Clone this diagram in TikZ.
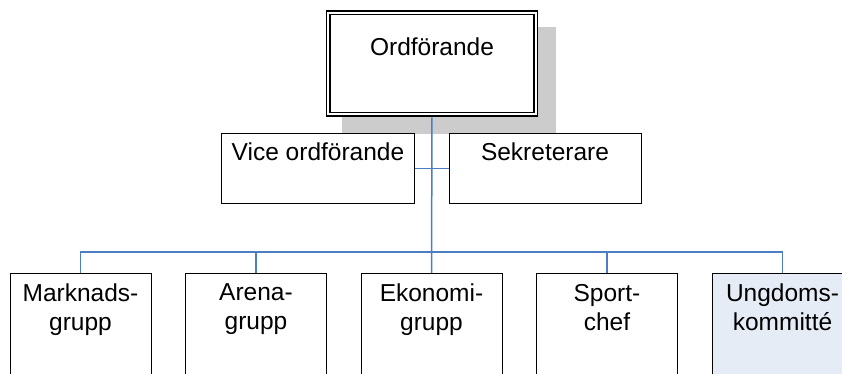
\documentclass[tikz,border=0pt]{standalone}
\usepackage{fontspec}
\setmainfont{Liberation Sans}
\usetikzlibrary{positioning,backgrounds}
\definecolor{connblue}{RGB}{74,126,192}
\definecolor{youthfill}{RGB}{230,236,246}

\begin{document}
\begin{tikzpicture}[x=1pt, y=-1pt,
    box/.style={draw, fill=white, line width=1pt, inner sep=0pt, anchor=north},
    unit/.style={box, minimum width=141pt, minimum height=120pt},
    txt/.style={inner sep=0pt, anchor=north, align=center,
      font=\fontsize{24.5}{29}\selectfont, execute at begin node=\strut},
    conn/.style={draw=connblue, line width=1.5pt}]
    \useasboundingbox (0,0) rectangle (842,374);
    \clip (0,0) rectangle (842,374);

    \node[box, double, line width=1.3pt, double distance=2.2pt, minimum width=207.5pt,
      minimum height=101.5pt] (ordf) at (432,12.25) {};
    \node[box, minimum width=193pt, minimum height=70pt] (vice) at (318,133) {};
    \node[box, minimum width=192pt, minimum height=70pt] (sek) at (545,133) {};

    \node[unit] (mark) at (80.5,273) {};
    \node[unit] (arena) at (256,273) {};
    \node[unit] (econ) at (431.5,273) {};
    \node[unit] (sport) at (607,273) {};
    \node[unit, fill=youthfill] (youth) at (782.5,273) {};

    % shadow behind the top box
    \begin{scope}[on background layer]
      \fill[black!20] ([shift={(14.75,14.75)}]ordf.north west)
        rectangle ([shift={(19.25,19.25)}]ordf.south east);
    \end{scope}

    \node[txt, below=22.45pt of ordf.north] (ordf-t) {Ordförande};
    \node[txt, below=6.7pt of vice.north] (vice-t) {Vice ordförande};
    \node[txt, below=6.7pt of sek.north] (sek-t) {Sekreterare};

    \node[txt, below=10.7pt of mark.north] (mark-t) {Marknads-\\grupp};
    \node[txt, below=10.7pt of arena.north] (arena-t) {Arena-\\grupp};
    \node[txt, below=10.7pt of econ.north] (econ-t) {Ekonomi-\\grupp};
    \node[txt, below=10.7pt of sport.north] (sport-t) {Sport-\\chef};
    \node[txt, below=10.7pt of youth.north] (youth-t) {Ungdoms-\\kommitté};

    \coordinate (bus) at (0,252);
    \draw[conn, shorten <=2.4pt] (ordf.south) -- (econ.north);
    \draw[conn] (vice.east) -- (sek.west);
    \draw[conn] (mark.north) -- (mark.north |- bus) -| (youth.north);
    \draw[conn] (arena.north) -- (arena.north |- bus);
    \draw[conn] (sport.north) -- (sport.north |- bus);

  \end{tikzpicture}
\end{document}
